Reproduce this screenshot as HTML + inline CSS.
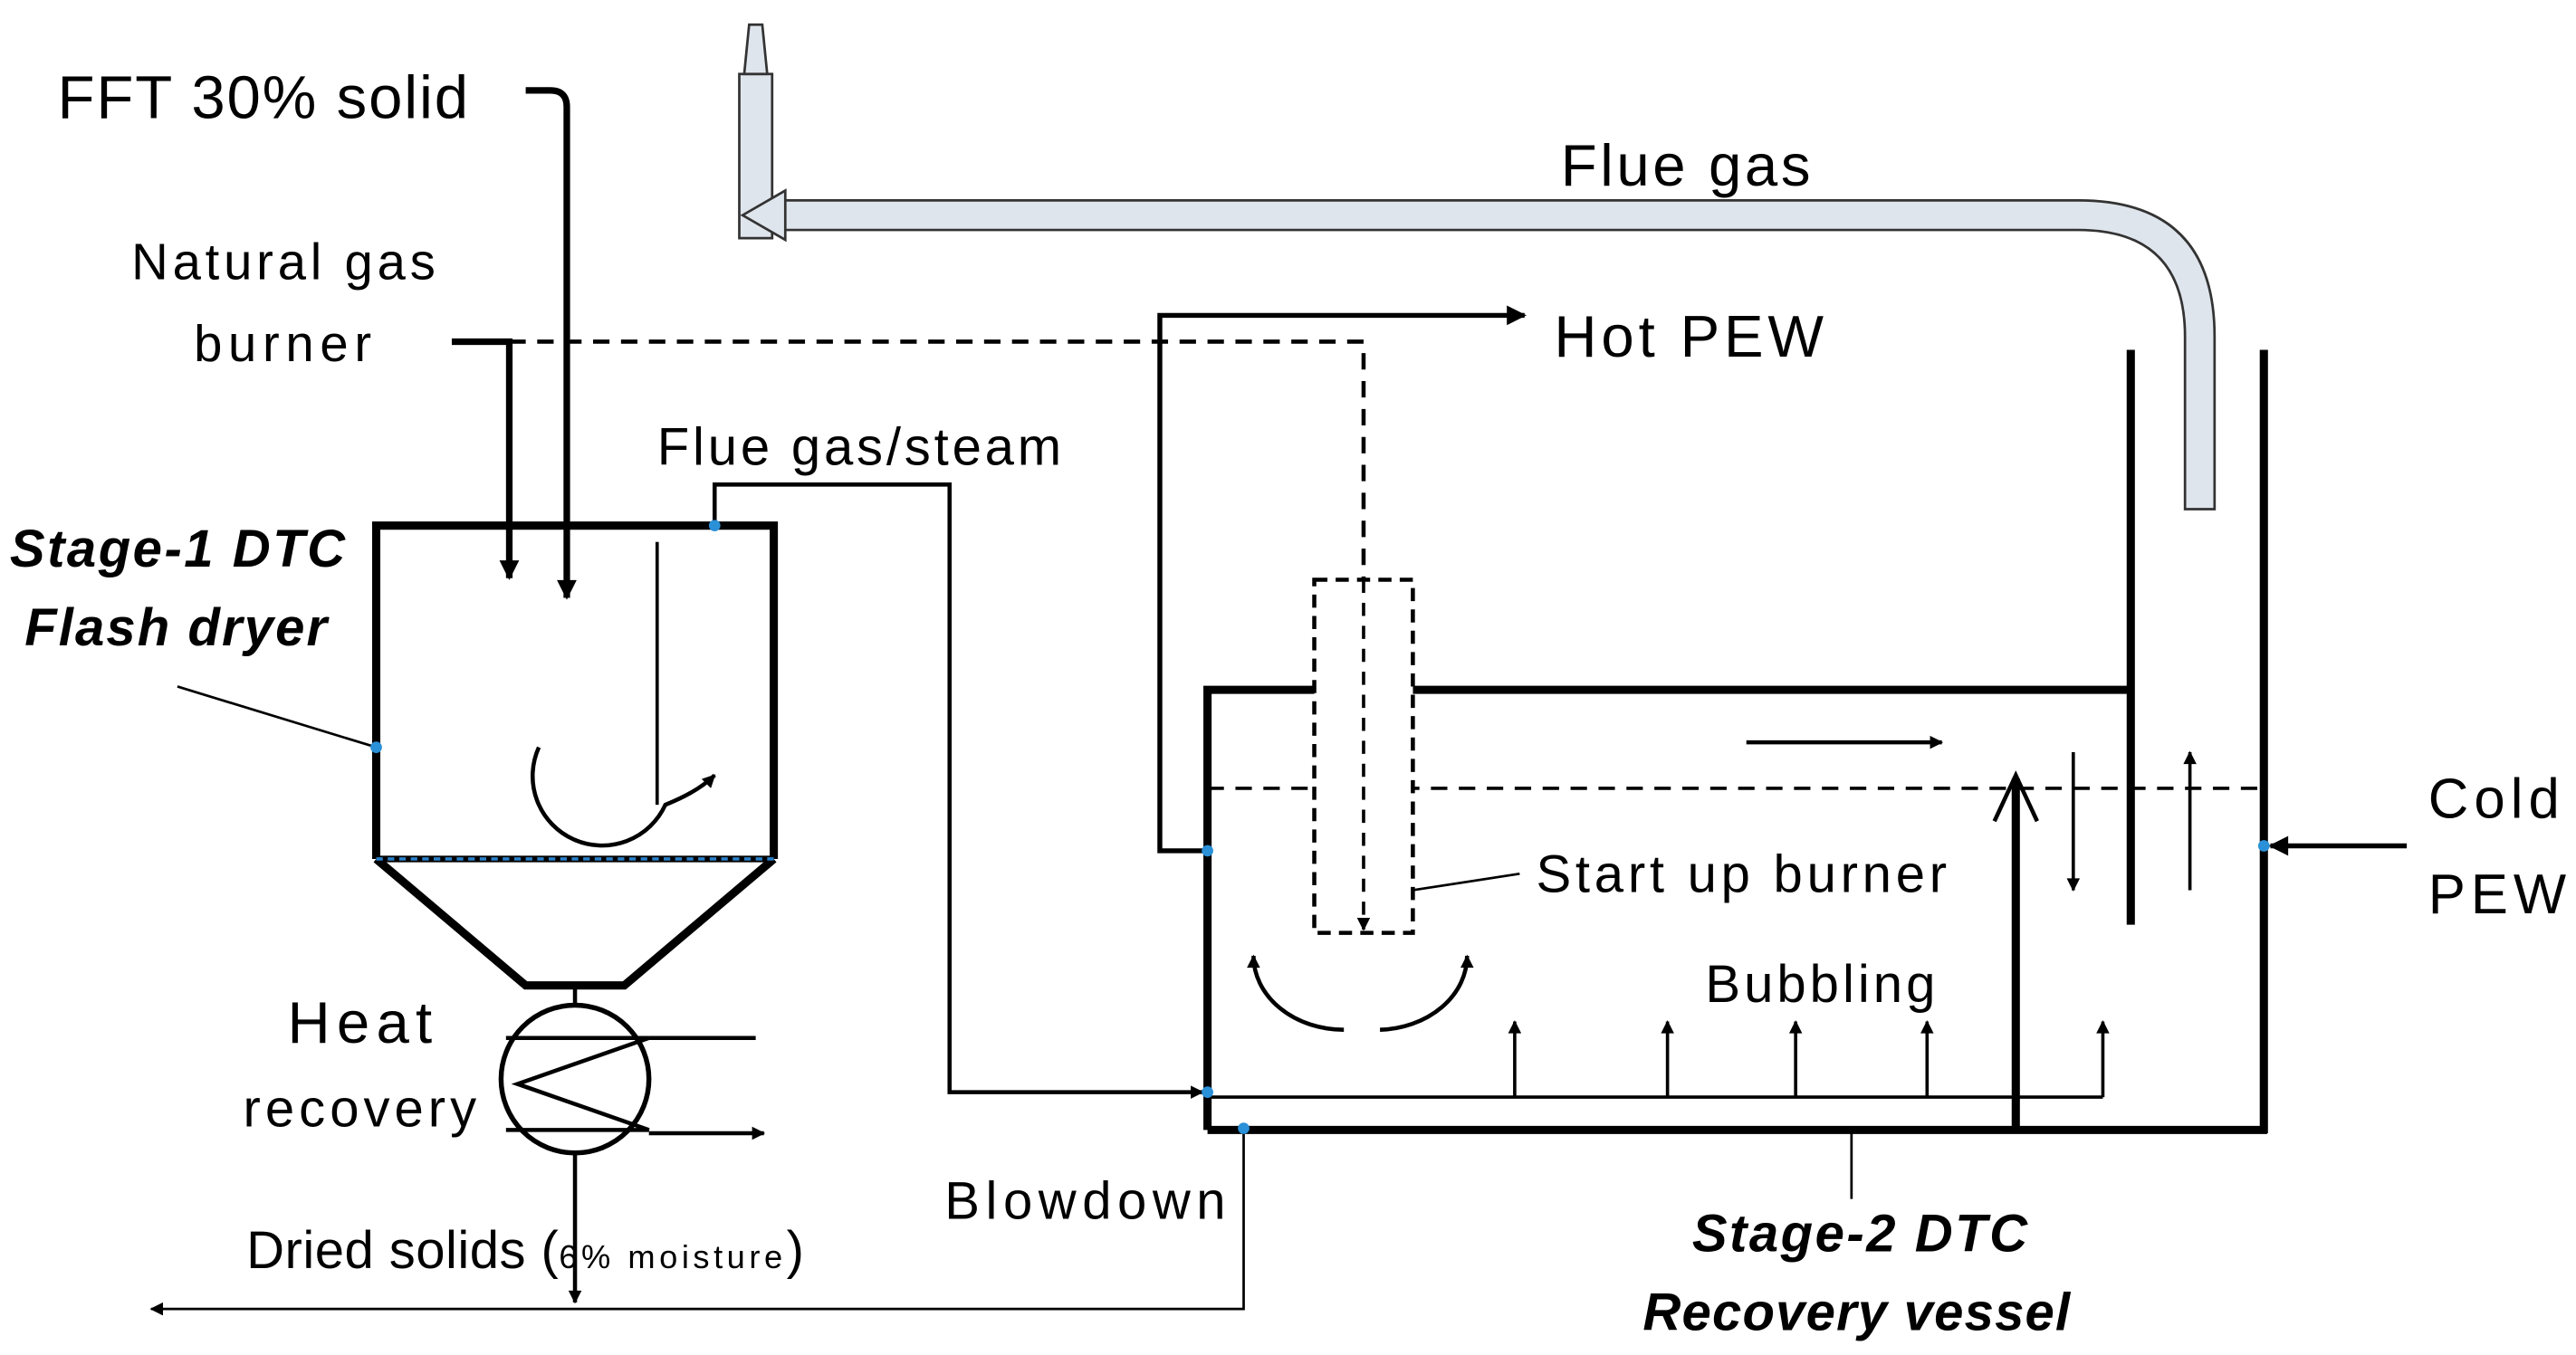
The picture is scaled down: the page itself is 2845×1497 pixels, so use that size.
<!DOCTYPE html>
<html><head><meta charset="utf-8"><style>
html,body{margin:0;padding:0;background:#fff;}
svg{display:block;}
text{font-family:"Liberation Sans",sans-serif;fill:#000;}
.b{font-weight:bold;font-style:italic;}
</style></head><body>
<svg width="2845" height="1497" viewBox="0 0 1568 825" xmlns="http://www.w3.org/2000/svg">
<defs>
<marker id="a" viewBox="0 0 10 10" refX="9" refY="5" markerWidth="10" markerHeight="8" markerUnits="userSpaceOnUse" orient="auto-start-reverse"><path d="M0,0 L10,5 L0,10 z" fill="#000"/></marker>
<marker id="s" viewBox="0 0 10 10" refX="9" refY="5" markerWidth="14" markerHeight="12" markerUnits="userSpaceOnUse" orient="auto"><path d="M0,0 L10,5 L0,10 z" fill="#000"/></marker>
</defs>
<rect width="1568" height="825" fill="#fff"/>
<path d="M470,122 H1265 Q1348,122 1348,205 V310 H1330 V205 Q1330,140 1265,140 H470 Z" fill="#dfe5ec" stroke="#333" stroke-width="1.5"/>
<path d="M450,45 H470 V145 H450 Z" fill="#dfe5ec" stroke="#333" stroke-width="1.5"/>
<path d="M453,45 L456,15 H464 L467,45 Z" fill="#dfe5ec" stroke="#333" stroke-width="1.5"/>
<path d="M452,131 L478,116 V146 Z" fill="#dfe5ec" stroke="#333" stroke-width="1.5"/>
<text x="950" y="113" font-size="36" textLength="152">Flue gas</text>
<text x="35" y="72" font-size="37" textLength="250">FFT 30% solid</text>
<path d="M320,55 H335 Q345,55 345,65 V364" fill="none" stroke="#000" stroke-width="4" marker-end="url(#s)"/>
<text x="80" y="170" font-size="31" textLength="185">Natural gas</text>
<text x="118" y="220" font-size="31" textLength="108">burner</text>
<path d="M275,208 H310 V352" fill="none" stroke="#000" stroke-width="4" marker-end="url(#s)"/>
<path d="M310,208 H830 V352" fill="none" stroke="#000" stroke-width="2.5" stroke-dasharray="10,7"/>
<path d="M229,523 V320 H471 V523" fill="none" stroke="#000" stroke-width="5"/>
<path d="M229,523 L320,600 H380 L471,523" fill="none" stroke="#000" stroke-width="5"/>
<line x1="229" y1="523" x2="471" y2="523" stroke="#000" stroke-width="4"/>
<line x1="229" y1="523" x2="471" y2="523" stroke="#2a80c8" stroke-width="2" stroke-dasharray="4,3"/>
<line x1="400" y1="330" x2="400" y2="490" stroke="#000" stroke-width="2"/>
<path d="M328,455 A40,40 0 0 0 405,490 Q425,482 435,472" fill="none" stroke="#000" stroke-width="2.5" marker-end="url(#a)"/>
<text x="6" y="345" font-size="32" class="b" textLength="204">Stage-1 DTC</text>
<text x="15" y="393" font-size="32" class="b" textLength="184">Flash dryer</text>
<line x1="108" y1="418" x2="229" y2="455" stroke="#000" stroke-width="1.5"/>
<text x="400" y="283" font-size="32" textLength="246">Flue gas/steam</text>
<path d="M435,320 V295 H578 V665 H732" fill="none" stroke="#000" stroke-width="2.5" marker-end="url(#a)"/>
<line x1="350" y1="600" x2="350" y2="612" stroke="#000" stroke-width="2.5"/>
<circle cx="350" cy="657" r="45" fill="#fff" stroke="#000" stroke-width="3"/>
<path d="M308,632 H395 L315,660 L395,688 H308" fill="none" stroke="#000" stroke-width="2.5"/>
<line x1="395" y1="632" x2="460" y2="632" stroke="#000" stroke-width="2.5"/>
<line x1="395" y1="690" x2="465" y2="690" stroke="#000" stroke-width="2.5" marker-end="url(#a)"/>
<line x1="350" y1="702" x2="350" y2="793" stroke="#000" stroke-width="2.5" marker-end="url(#a)"/>
<text x="175" y="635" font-size="36" textLength="88">Heat</text>
<text x="148" y="686" font-size="32" textLength="142">recovery</text>
<text x="150" y="772" font-size="32"><tspan textLength="190">Dried solids (</tspan><tspan font-size="20" textLength="136">6% moisture</tspan>)</text>
<path d="M757,687 V797 H92" fill="none" stroke="#000" stroke-width="1.5" marker-end="url(#a)"/>
<text x="575" y="742" font-size="32" textLength="171">Blowdown</text>
<path d="M735,688 V420 H800" fill="none" stroke="#000" stroke-width="5"/>
<line x1="860" y1="420" x2="1297" y2="420" stroke="#000" stroke-width="5"/>
<line x1="735" y1="688" x2="1380" y2="688" stroke="#000" stroke-width="5"/>
<line x1="1378" y1="213" x2="1378" y2="690" stroke="#000" stroke-width="5"/>
<line x1="1297" y1="213" x2="1297" y2="563" stroke="#000" stroke-width="5"/>
<line x1="735" y1="480" x2="1378" y2="480" stroke="#000" stroke-width="2" stroke-dasharray="10,7"/>
<rect x="800" y="353" width="60" height="215" fill="#fff" stroke="#000" stroke-width="2.5" stroke-dasharray="8,5"/>
<path d="M830,353 V566" fill="none" stroke="#000" stroke-width="2" stroke-dasharray="8,6" marker-end="url(#a)"/>
<path d="M735,518 H706 V192 H928" fill="none" stroke="#000" stroke-width="3" marker-end="url(#s)"/>
<text x="946" y="217" font-size="36" textLength="164">Hot PEW</text>
<text x="1478" y="498" font-size="34" textLength="80">Cold</text>
<text x="1478" y="556" font-size="34" textLength="84">PEW</text>
<line x1="1465" y1="515" x2="1382" y2="515" stroke="#000" stroke-width="3" marker-end="url(#s)"/>
<line x1="1063" y1="452" x2="1182" y2="452" stroke="#000" stroke-width="2.5" marker-end="url(#a)"/>
<line x1="1262" y1="458" x2="1262" y2="542" stroke="#000" stroke-width="2" marker-end="url(#a)"/>
<line x1="1333" y1="542" x2="1333" y2="458" stroke="#000" stroke-width="2" marker-end="url(#a)"/>
<line x1="1227" y1="688" x2="1227" y2="474" stroke="#000" stroke-width="5"/>
<path d="M1214,500 L1227,472 L1240,500" fill="none" stroke="#000" stroke-width="2.5"/>
<line x1="735" y1="668" x2="1280" y2="668" stroke="#000" stroke-width="2"/>
<g stroke="#000" stroke-width="2">
<line x1="922" y1="668" x2="922" y2="622" marker-end="url(#a)"/>
<line x1="1015" y1="668" x2="1015" y2="622" marker-end="url(#a)"/>
<line x1="1093" y1="668" x2="1093" y2="622" marker-end="url(#a)"/>
<line x1="1173" y1="668" x2="1173" y2="622" marker-end="url(#a)"/>
<line x1="1280" y1="668" x2="1280" y2="622" marker-end="url(#a)"/>
</g>
<path d="M818,627 A55,45 0 0 1 763,582" fill="none" stroke="#000" stroke-width="2.5" marker-end="url(#a)"/>
<path d="M840,627 A55,45 0 0 0 893,582" fill="none" stroke="#000" stroke-width="2.5" marker-end="url(#a)"/>
<text x="1038" y="610" font-size="32" textLength="140">Bubbling</text>
<text x="935" y="543" font-size="32" textLength="250">Start up burner</text>
<line x1="860" y1="542" x2="925" y2="532" stroke="#000" stroke-width="1.5"/>
<line x1="1127" y1="690" x2="1127" y2="730" stroke="#000" stroke-width="1.5"/>
<text x="1030" y="762" font-size="32" class="b" textLength="204">Stage-2 DTC</text>
<text x="1000" y="810" font-size="32" class="b" textLength="260">Recovery vessel</text>
<g fill="#2a90d8">
<circle cx="229" cy="455" r="3.5"/><circle cx="435" cy="320" r="3.5"/>
<circle cx="735" cy="518" r="3.5"/><circle cx="735" cy="665" r="3.5"/>
<circle cx="757" cy="687" r="3.5"/><circle cx="1378" cy="515" r="3.5"/>
</g>
</svg>
</body></html>
